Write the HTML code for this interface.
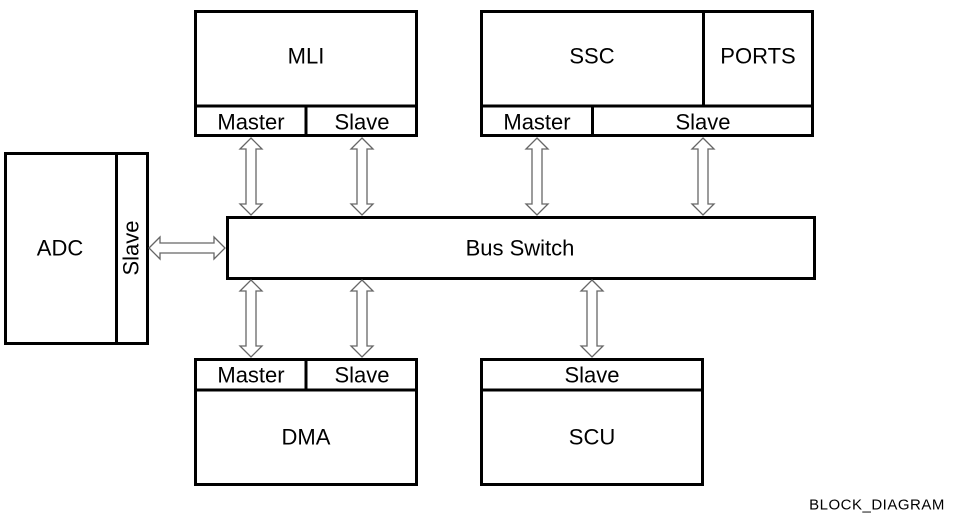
<!DOCTYPE html>
<html><head><meta charset="utf-8"><style>
html,body{margin:0;padding:0;background:#fff;}
svg{display:block;font-family:"Liberation Sans",sans-serif;}
text{font-size:22px;fill:#000;text-anchor:middle;dominant-baseline:central;}
.b{fill:none;stroke:#000;stroke-width:3;}
.a{fill:#fff;stroke:#666;stroke-width:1.3;}
</style></head><body>
<svg width="964" height="523" viewBox="0 0 964 523">
<!-- MLI -->
<rect class="b" x="195.5" y="11.5" width="221" height="124"/>
<line class="b" x1="195" y1="106" x2="417" y2="106"/>
<line class="b" x1="306" y1="106" x2="306" y2="136"/>
<text x="306" y="56">MLI</text>
<text x="251" y="122">Master</text>
<text x="362" y="122">Slave</text>
<!-- SSC / PORTS -->
<rect class="b" x="481.5" y="11.5" width="331" height="124"/>
<line class="b" x1="481" y1="106" x2="813" y2="106"/>
<line class="b" x1="703.5" y1="11" x2="703.5" y2="106"/>
<line class="b" x1="592.5" y1="106" x2="592.5" y2="136"/>
<text x="592" y="56">SSC</text>
<text x="758" y="56">PORTS</text>
<text x="537" y="122">Master</text>
<text x="703" y="122">Slave</text>
<!-- ADC -->
<rect class="b" x="5.5" y="153.5" width="142" height="190"/>
<line class="b" x1="116.5" y1="153" x2="116.5" y2="344"/>
<text x="60" y="248">ADC</text>
<text x="131" y="248" transform="rotate(-90 131 248)">Slave</text>
<!-- Bus Switch -->
<rect class="b" x="227.5" y="217.5" width="587" height="61"/>
<text x="520" y="248">Bus Switch</text>
<!-- DMA -->
<rect class="b" x="195.5" y="359.5" width="221" height="125"/>
<line class="b" x1="195" y1="390" x2="417" y2="390"/>
<line class="b" x1="306" y1="359" x2="306" y2="390"/>
<text x="251" y="375">Master</text>
<text x="362" y="375">Slave</text>
<text x="306" y="437">DMA</text>
<!-- SCU -->
<rect class="b" x="481.5" y="359.5" width="221" height="125"/>
<line class="b" x1="481" y1="390" x2="703" y2="390"/>
<text x="592" y="375">Slave</text>
<text x="592" y="437">SCU</text>
<!-- arrows vertical -->
<g>
<polygon class="a" points="251,138 262,149 256,149 256,204 262,204 251,215 240,204 246,204 246,149 240,149"/>
<polygon class="a" points="362,138 373,149 367,149 367,204 373,204 362,215 351,204 357,204 357,149 351,149"/>
<polygon class="a" points="537,138 548,149 542,149 542,204 548,204 537,215 526,204 532,204 532,149 526,149"/>
<polygon class="a" points="703,138 714,149 708,149 708,204 714,204 703,215 692,204 698,204 698,149 692,149"/>
<polygon class="a" points="251,280 262,291 256,291 256,346 262,346 251,357 240,346 246,346 246,291 240,291"/>
<polygon class="a" points="362,280 373,291 367,291 367,346 373,346 362,357 351,346 357,346 357,291 351,291"/>
<polygon class="a" points="592,280 603,291 597,291 597,346 603,346 592,357 581,346 587,346 587,291 581,291"/>
<!-- horizontal ADC arrow -->
<polygon class="a" points="149,248 160,237 160,243 214,243 214,237 225,248 214,259 214,253 160,253 160,259"/>
</g>
<text x="877" y="505" style="font-size:15px;letter-spacing:0.5px">BLOCK_DIAGRAM</text>
</svg>
</body></html>
